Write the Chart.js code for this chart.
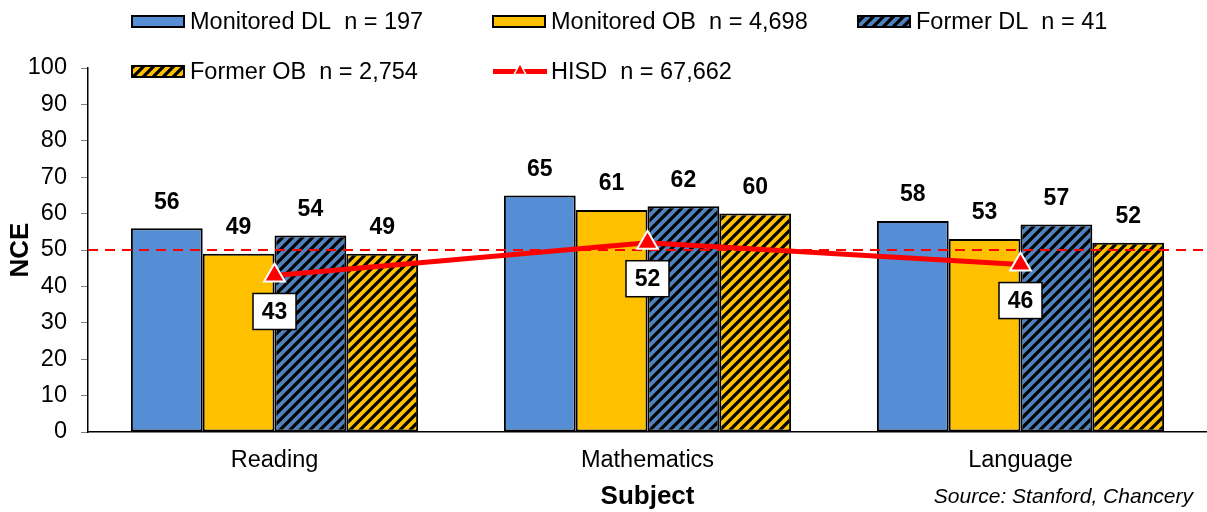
<!DOCTYPE html>
<html>
<head>
<meta charset="utf-8">
<script src="https://cdn.jsdelivr.net/npm/chart.js@4"></script>
<style>
  html, body { margin: 0; padding: 0; background: #fff; }
  #chart { display: block; }
</style>
</head>
<body>
<canvas id="chart" width="1207" height="512"></canvas>
<script>
const subjects = ["Reading", "Mathematics", "Language"];
const seriesNames = ["Monitored DL", "Monitored OB", "Former DL", "Former OB"];
const seriesN = ["197", "4,698", "41", "2,754"];
const monitoredDL = [56, 65, 58];
const monitoredOB = [49, 61, 53];
const formerDL = [54, 62, 57];
const formerOB = [49, 60, 52];
const hisdName = "HISD";
const hisdN = "67,662";
const hisd = [43, 52, 46];
const refLine = 50;
const yTicks = [0, 10, 20, 30, 40, 50, 60, 70, 80, 90, 100];

const FONT = "'Liberation Sans', Arial, sans-serif";
const BLUE = "#558ED5";
const BLUE_H = "#4F81BD";
const YELLOW = "#FFC000";
const RED = "#FF0000";

// hachures diagonales "/"
function hatch(color) {
  const c = document.createElement("canvas");
  c.width = 10;
  c.height = 10;
  const g = c.getContext("2d");
  g.fillStyle = color;
  g.fillRect(0, 0, 10, 10);
  g.strokeStyle = "#000";
  g.lineWidth = 3.2;
  g.beginPath();
  g.moveTo(-2, 12); g.lineTo(12, -2);
  g.moveTo(-7, 7); g.lineTo(7, -7);
  g.moveTo(3, 17); g.lineTo(17, 3);
  g.stroke();
  return g.createPattern(c, "repeat");
}

const fills = [BLUE, YELLOW, hatch(BLUE_H), hatch(YELLOW)];
const barData = [monitoredDL, monitoredOB, formerDL, formerOB];

const legendPlugin = {
  id: "legendeCustom",
  afterDraw(chart) {
    const ctx = chart.ctx;
    const items = [
      { x: 132, y: 21.5, i: 0 },
      { x: 493, y: 21.5, i: 1 },
      { x: 858, y: 21.5, i: 2 },
      { x: 132, y: 71.5, i: 3 },
      { x: 493, y: 71.5, i: 4 },
    ];
    ctx.save();
    ctx.font = "23.5px " + FONT;
    ctx.textBaseline = "middle";
    ctx.fillStyle = "#000";
    items.forEach((it) => {
      if (it.i < 4) {
        ctx.fillStyle = fills[it.i];
        ctx.fillRect(it.x, it.y - 5.5, 52, 11);
        ctx.strokeStyle = "#000";
        ctx.lineWidth = 2;
        ctx.strokeRect(it.x, it.y - 5.5, 52, 11);
        ctx.fillStyle = "#000";
        ctx.fillText(seriesNames[it.i] + "  n = " + seriesN[it.i], it.x + 58, it.y + 1);
      } else {
        ctx.strokeStyle = RED;
        ctx.lineWidth = 5;
        ctx.beginPath();
        ctx.moveTo(it.x, it.y);
        ctx.lineTo(it.x + 54, it.y);
        ctx.stroke();
        ctx.fillStyle = RED;
        ctx.strokeStyle = "#fff";
        ctx.lineWidth = 1.5;
        ctx.beginPath();
        ctx.moveTo(it.x + 27, it.y - 8);
        ctx.lineTo(it.x + 33, it.y + 3);
        ctx.lineTo(it.x + 21, it.y + 3);
        ctx.closePath();
        ctx.fill();
        ctx.stroke();
        ctx.fillStyle = "#000";
        ctx.fillText(hisdName + "  n = " + hisdN, it.x + 58, it.y + 1);
      }
    });
    // source
    ctx.font = "italic 21px " + FONT;
    ctx.textAlign = "right";
    ctx.fillText("Source: Stanford, Chancery", 1193, 497);
    ctx.restore();
  },
};

const labelsPlugin = {
  id: "etiquettes",
  beforeDatasetDraw(chart, args) {
    // ligne pointillée à 50, sous la courbe HISD
    if (args.index !== 4) return;
    const ctx = chart.ctx;
    const y = chart.scales.y.getPixelForValue(refLine);
    ctx.save();
    ctx.strokeStyle = RED;
    ctx.lineWidth = 2;
    ctx.setLineDash([10, 7]);
    ctx.beginPath();
    ctx.moveTo(chart.chartArea.left, y);
    ctx.lineTo(chart.chartArea.right, y);
    ctx.stroke();
    ctx.restore();
  },
  afterDatasetsDraw(chart) {
    const ctx = chart.ctx;
    ctx.save();
    ctx.font = "bold 23px " + FONT;
    ctx.textAlign = "center";
    ctx.textBaseline = "middle";
    ctx.fillStyle = "#000";
    for (let d = 0; d < 4; d++) {
      chart.getDatasetMeta(d).data.forEach((bar, i) => {
        ctx.fillText(barData[d][i], bar.x, bar.y - 26);
      });
    }
    chart.getDatasetMeta(4).data.forEach((pt, i) => {
      const cy = pt.y + 36;
      ctx.fillStyle = "#fff";
      ctx.fillRect(pt.x - 21.5, cy - 18, 43, 36);
      ctx.strokeStyle = "#000";
      ctx.lineWidth = 1.5;
      ctx.strokeRect(pt.x - 21.5, cy - 18, 43, 36);
      ctx.fillStyle = "#000";
      ctx.fillText(hisd[i], pt.x, cy + 1);
    });
    ctx.restore();
  },
};

const datasets = barData.map((vals, d) => ({
  type: "bar",
  label: seriesNames[d],
  data: vals,
  backgroundColor: fills[d],
  borderColor: "#000",
  borderWidth: 2,
  borderSkipped: false,
  categoryPercentage: 0.77,
  barPercentage: 1,
  order: 1,
}));

datasets.push({
  type: "line",
  label: hisdName,
  data: hisd,
  borderColor: RED,
  borderWidth: 5,
  backgroundColor: RED,
  pointStyle: "triangle",
  pointRadius: 12,
  pointHoverRadius: 12,
  pointBackgroundColor: RED,
  pointBorderColor: "#fff",
  pointBorderWidth: 2,
  tension: 0,
  order: 0,
});

new Chart(document.getElementById("chart").getContext("2d"), {
  data: { labels: subjects, datasets: datasets },
  options: {
    responsive: false,
    animation: false,
    devicePixelRatio: 1,
    layout: { autoPadding: false, padding: { top: 68, right: 0, left: 0, bottom: 0 } },
    plugins: {
      legend: { display: false },
      tooltip: { enabled: false },
    },
    scales: {
      x: {
        offset: true,
        afterFit: (scale) => {
          scale.height = 80;
        },
        grid: { display: false, drawTicks: false },
        border: { display: true, color: "#000", width: 1.5 },
        ticks: { color: "#000", font: { family: FONT, size: 23.5 }, padding: 14 },
        title: {
          display: true,
          text: "Subject",
          color: "#000",
          font: { family: FONT, size: 26, weight: "bold" },
          padding: { top: 0, bottom: 0 },
        },
      },
      y: {
        min: 0,
        max: 100,
        afterBuildTicks: (axis) => {
          axis.ticks = yTicks.map((v) => ({ value: v }));
        },
        afterFit: (scale) => {
          scale.width = 88;
        },
        grid: {
          drawOnChartArea: false,
          drawTicks: true,
          tickLength: 7,
          color: "#808080",
        },
        border: { display: true, color: "#000", width: 1.5 },
        ticks: { color: "#000", font: { family: FONT, size: 23.5 }, padding: 14 },
        title: {
          display: true,
          text: "NCE",
          color: "#000",
          font: { family: FONT, size: 26, weight: "bold" },
          padding: { top: 5, bottom: 0 },
        },
      },
    },
  },
  plugins: [labelsPlugin, legendPlugin],
});
</script>
</body>
</html>
